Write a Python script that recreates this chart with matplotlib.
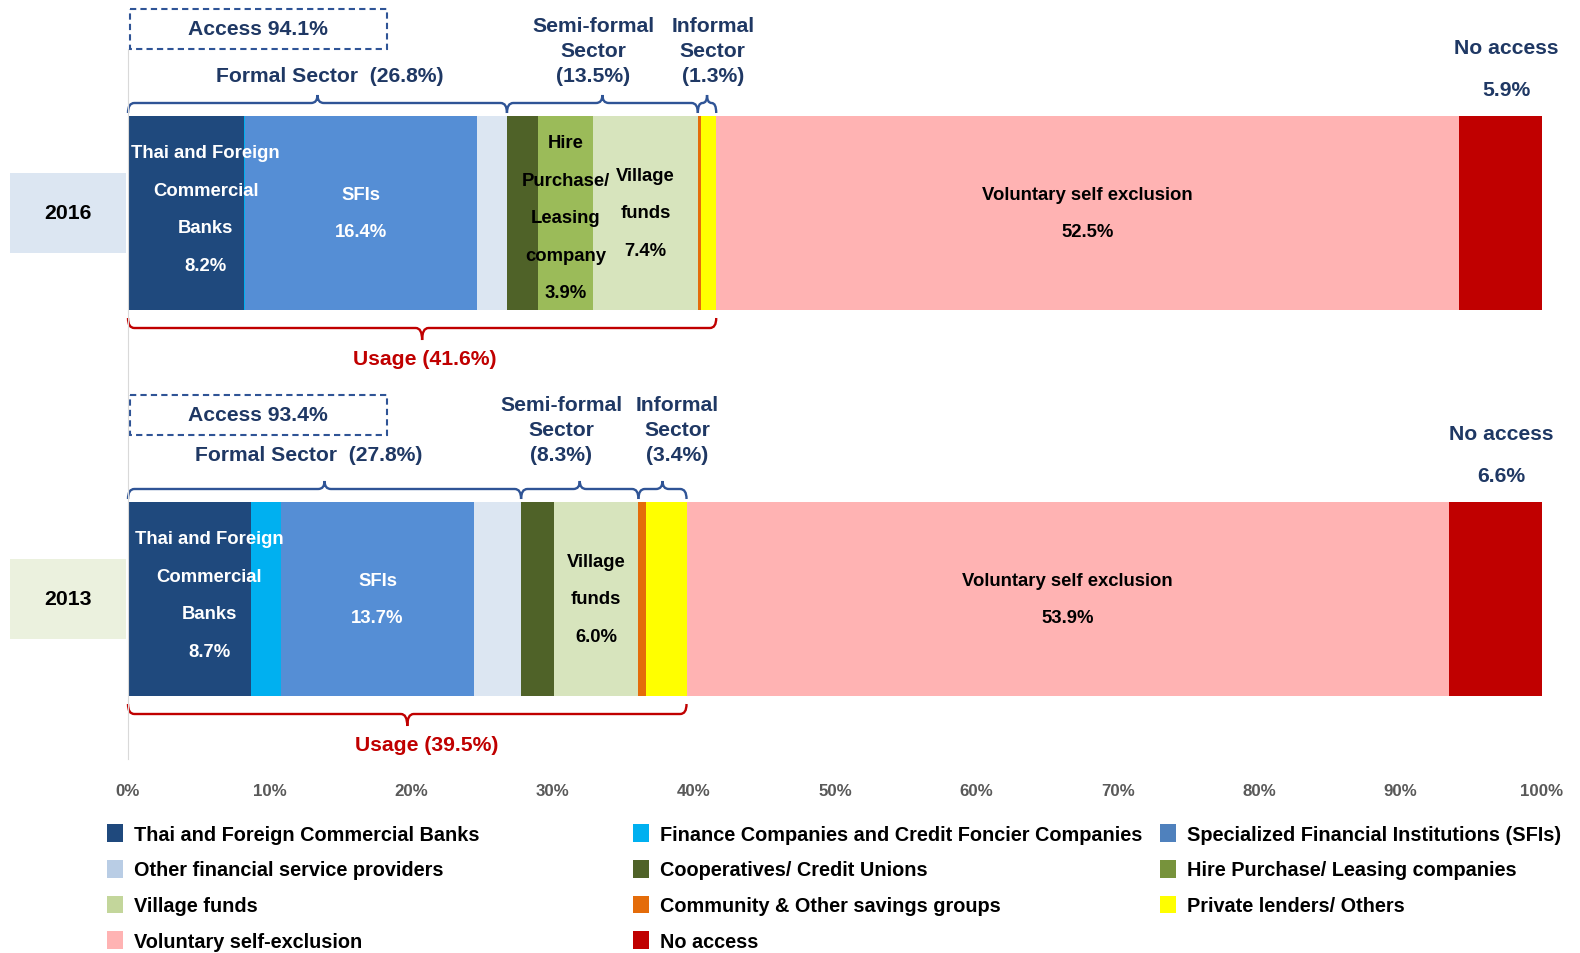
import matplotlib.pyplot as plt
from matplotlib.patches import Patch, Rectangle, PathPatch
from matplotlib.path import Path
import numpy as np

plt.rcParams['font.family'] = ['Liberation Sans', 'DejaVu Sans']
plt.rcParams['font.weight'] = 'bold'

# ---- data ----
years = ['2016', '2013']
categories = [
    'Thai and Foreign Commercial Banks',
    'Finance Companies and Credit Foncier Companies',
    'Specialized Financial Institutions (SFIs)',
    'Other financial service providers',
    'Cooperatives/ Credit Unions',
    'Hire Purchase/ Leasing companies',
    'Village funds',
    'Community & Other savings groups',
    'Private lenders/ Others',
    'Voluntary self-exclusion',
    'No access',
]
values_2016 = [8.2, 0.1, 16.4, 2.1, 2.2, 3.9, 7.4, 0.2, 1.1, 52.5, 5.9]
values_2013 = [8.7, 2.1, 13.7, 3.3, 2.3, 0.0, 6.0, 0.5, 2.9, 53.9, 6.6]
colors = ['#1f497d', '#00b0f0', '#558ed5', '#dce6f2', '#4f6228', '#9bbb59',
          '#d7e4bd', '#e46c0a', '#ffff00', '#ffb3b3', '#c00000']
legend_colors = ['#1f497d', '#00b0f0', '#4f81bd', '#b9cde5', '#4f6228', '#77933c',
                 '#c3d69b', '#e46c0a', '#ffff00', '#ffb3b3', '#c00000']

# sector groups (category indexes)
formal_idx = [0, 1, 2, 3]
semi_idx = [4, 5, 6]
informal_idx = [7, 8]
usage_idx = formal_idx + semi_idx + informal_idx

# labels written inside the bars
inner_2016 = {0: ['Thai and Foreign', 'Commercial', 'Banks'], 2: ['SFIs'],
              5: ['Hire', 'Purchase/', 'Leasing', 'company'],
              6: ['Village', 'funds'], 9: ['Voluntary self exclusion']}
inner_2013 = {0: ['Thai and Foreign', 'Commercial', 'Banks'], 2: ['SFIs'],
              6: ['Village', 'funds'], 9: ['Voluntary self exclusion']}
white_text = [0, 2]

# legend columns (row-major reading in the picture)
legend_cols = [[0, 3, 6, 9], [1, 4, 7, 10], [2, 5, 8]]

# ---- layout ----
W, H = 1580, 954
fig = plt.figure(figsize=(W / 100, H / 100), dpi=100)
ax = fig.add_axes([128 / W, (H - 760) / H, 1414 / W, 710 / H])
ax.set_xlim(0, 100)
ax.set_ylim(760, 50)   # y in pixels from the top

bar_y = [214, 600]
bar_h = 194
label_gap = [40, 47]
group_label_x = [[14.25, 32.9, 41.35], [12.75, 30.65, 38.85]]
usage_label_x = [21.0, 21.1]
navy = '#1f3864'
brace_col = '#2f5496'
red = '#c00000'
px = lambda p: (p - 128) / 14.14   # pixel x -> data x (for items left of the axis)


def brace(x0, x1, y_end, y_line, y_tip, color):
    xc = (x0 + x1) / 2
    r = min(0.45, (x1 - x0) / 4)
    verts = [(x0, y_end), (x0, y_line), (x0 + r, y_line),
             (xc - r, y_line), (xc, y_line), (xc, y_tip),
             (xc, y_line), (xc + r, y_line),
             (x1 - r, y_line), (x1, y_line), (x1, y_end)]
    codes = [Path.MOVETO, Path.CURVE3, Path.CURVE3,
             Path.LINETO, Path.CURVE3, Path.CURVE3,
             Path.CURVE3, Path.CURVE3,
             Path.LINETO, Path.CURVE3, Path.CURVE3]
    ax.add_patch(PathPatch(Path(verts, codes), fill=False, edgecolor=color,
                           lw=1.7, clip_on=False))


def lines_text(x, y_center, lines, spacing, **kw):
    n = len(lines)
    for i, s in enumerate(lines):
        ax.text(x, y_center + (i - (n - 1) / 2) * spacing, s,
                ha='center', va='center', clip_on=False, **kw)


for k, (year, vals, inner) in enumerate(zip(years, [values_2016, values_2013],
                                             [inner_2016, inner_2013])):
    vals = np.array(vals)
    lefts = np.concatenate([[0], np.cumsum(vals)[:-1]])
    yc = bar_y[k]
    top = yc - bar_h / 2
    bot = yc + bar_h / 2

    ax.barh([yc] * len(vals), vals, left=lefts, height=bar_h, color=colors,
            linewidth=0)

    # year box on the left
    ax.add_patch(Rectangle((px(10), yc - 40), px(126) - px(10), 80,
                           facecolor=['#dce6f2', '#ebf1de'][k], edgecolor='none',
                           clip_on=False))
    ax.text((px(10) + px(126)) / 2, yc, year, ha='center', va='center',
            fontsize=15.3, color='black', clip_on=False)

    # text inside the bars
    for idx, lines in inner.items():
        x = lefts[idx] + vals[idx] / 2
        y = yc
        if idx == 0:
            x += 1.4
            y -= 4
        if idx == 5:
            y += 5
        lines_text(x, y, lines + [f'{vals[idx]:.1f}%'], 37.5, fontsize=13.3,
                   color='white' if idx in white_text else 'black')

    # sector braces and labels above
    groups = [(formal_idx, None), (semi_idx, 'Semi-formal'), (informal_idx, 'Informal')]
    for g, (idxs, name) in enumerate(groups):
        x0 = lefts[idxs[0]]
        x1 = lefts[idxs[-1]] + vals[idxs[-1]]
        brace(x0, x1, top - 3, top - 13, top - 21, brace_col)
        share = vals[idxs].sum()
        ly = top - label_gap[k]
        lx = group_label_x[k][g]
        if name is None:
            ax.text(lx, ly, f'Formal Sector  ({share:.1f}%)',
                    ha='center', va='center', fontsize=15.2, color=navy,
                    clip_on=False)
        else:
            lines_text(lx, ly - 25, [name, 'Sector', f'({share:.1f}%)'],
                       25, fontsize=15.2, color=navy)

    # access box
    access = 100 - vals[-1]
    ax.add_patch(Rectangle((0.15, top - 107), 18.15, 40, fill=False,
                           edgecolor=brace_col, lw=1.5, ls=(0, (3, 2)),
                           clip_on=False))
    ax.text(9.2, top - 87, f'Access {access:.1f}%', ha='center', va='center',
            fontsize=15.2, color=navy, clip_on=False)

    # no access label
    xn = lefts[-1] + vals[-1] / 2 + 0.45
    ax.text(xn, top - 68, 'No access', ha='center', va='center', fontsize=15.2,
            color=navy, clip_on=False)
    ax.text(xn, top - 26, f'{vals[-1]:.1f}%', ha='center', va='center',
            fontsize=15.2, color=navy, clip_on=False)

    # usage brace below
    usage = vals[usage_idx].sum()
    brace(0, usage, bot + 8, bot + 18, bot + 30, red)
    ax.text(usage_label_x[k], bot + 49, f'Usage ({usage:.1f}%)', ha='center',
            va='center', fontsize=15.2, color=red, clip_on=False)

# axes styling
for s in ['top', 'right', 'bottom']:
    ax.spines[s].set_visible(False)
ax.spines['left'].set_color('#d9d9d9')
ax.set_yticks([])
ax.set_xticks(np.arange(0, 101, 10))
ax.set_xticklabels([f'{t}%' for t in range(0, 101, 10)])
ax.tick_params(axis='x', length=0, pad=17, labelsize=12.2, labelcolor='#595959')

# legend in three columns
col_x = [107, 633, 1160]
for cx, col in zip(col_x, legend_cols):
    handles = [Patch(facecolor=legend_colors[i], edgecolor='none') for i in col]
    fig.legend(handles, [categories[i] for i in col], loc='upper left',
               bbox_to_anchor=(cx / W, 1 - 825 / H), frameon=False,
               borderpad=0, borderaxespad=0, handlelength=0.8,
               handleheight=1.0, handletextpad=0.55, labelspacing=0.81,
               prop={'size': 14.3, 'weight': 'bold'})

fig.savefig('out.png', dpi=100)
